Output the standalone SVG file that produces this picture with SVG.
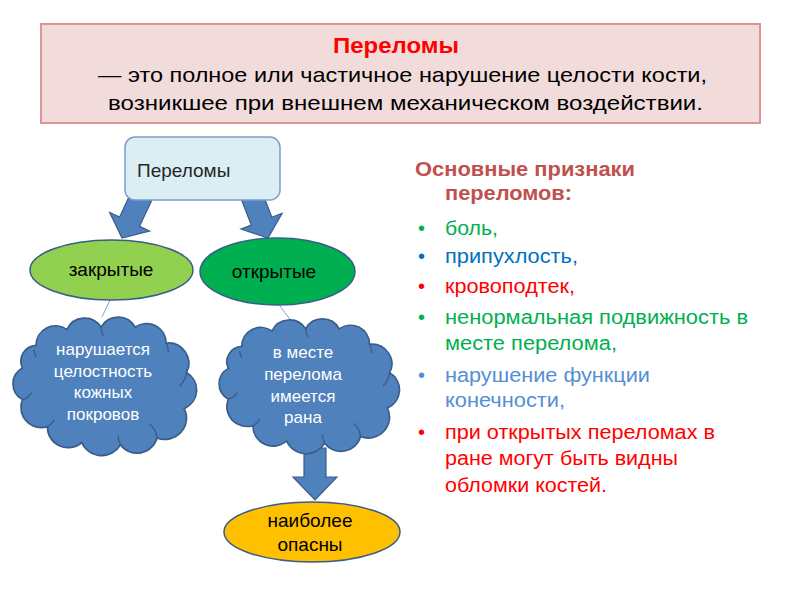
<svg xmlns="http://www.w3.org/2000/svg" xmlns:xlink="http://www.w3.org/1999/xlink" width="800" height="600" viewBox="0 0 800 600">
<style>
text{font-family:"Liberation Sans",Arial,sans-serif}
.arrow{fill:#4f81bd;stroke:#385d8a;stroke-width:1.2}
.thin{stroke:#7ea3d4;stroke-width:1;fill:none}
.cloud{fill:#4f81bd;stroke:#385d8a;stroke-width:1.5;vector-effect:non-scaling-stroke}
.inner{fill:none;stroke:#385d8a;stroke-width:1.2;vector-effect:non-scaling-stroke}
.ell{stroke:#385d8a;stroke-width:1.5}
.ct{fill:#ffffff;font-size:17px;text-anchor:middle}
.lt{font-size:20px}
.nt{font-size:19px;fill:#000;text-anchor:middle}
</style>
<defs>
<polygon id="arr" points="-11,-46 11,-46 11,-18 22,-18 0,0 -22,-18 -11,-18"/>
<path id="cloudShape" d="M-60,-36 A17,17 0 0 1 -33,-50 A17,17 0 0 1 -3,-52 A17,17 0 0 1 27,-52 A17,17 0 0 1 54,-38 A18,18 0 0 1 72,-12 A18,18 0 0 1 70,20 A19,19 0 0 1 46,46 A18,18 0 0 1 14,52 A19,19 0 0 1 -20,50 A18,18 0 0 1 -50,36 A18,18 0 0 1 -72,12 A16,16 0 0 1 -72,-16 A14,14 0 0 1 -60,-36 Z"/>
<path id="cloudInner" d="M-62,-32 A16,16 0 0 0 -60,-26 M-3,-52 A18,18 0 0 0 -1,-44 M54,-38 A16,16 0 0 1 56,-30 M72,-12 A20,20 0 0 1 66,0 M46,46 A18,18 0 0 0 40,34 M14,52 A16,16 0 0 1 12,44 M-50,36 A14,14 0 0 0 -44,30 M-72,12 A14,14 0 0 0 -64,6"/>
</defs>

<g id="title-box">
<rect x="41" y="24" width="719" height="99" fill="#f2dcdb" stroke="#d99694" stroke-width="2"/>
<text x="396" y="53" text-anchor="middle" font-size="22" font-weight="bold" fill="#ff0000" textLength="126" lengthAdjust="spacingAndGlyphs">Переломы</text>
<text x="98" y="82" font-size="21" fill="#000" textLength="609" lengthAdjust="spacingAndGlyphs">— это полное или частичное нарушение целости кости,</text>
<text x="108" y="110" font-size="21" fill="#000" textLength="595" lengthAdjust="spacingAndGlyphs">возникшее при внешнем механическом воздействии.</text>
</g>

<g id="connectors">
<use xlink:href="#arr" class="arrow" transform="translate(122,238) rotate(25)"/>
<use xlink:href="#arr" class="arrow" transform="translate(268,238) rotate(-21)"/>
<polygon class="arrow" points="304,448 326,448 326,477 337,477 315,500 293,477 304,477"/>
<line class="thin" x1="110" y1="300" x2="102" y2="317"/>
<line class="thin" x1="280" y1="306" x2="292" y2="322"/>
</g>

<g id="node-root">
<rect x="125" y="137" width="155" height="63" rx="10" ry="10" fill="#dbeef4" stroke="#7d9ec8" stroke-width="1.5"/>
<text x="137" y="177" font-size="19" fill="#262626">Переломы</text>
</g>

<g id="node-closed">
<ellipse class="ell" cx="111.5" cy="270" rx="81.5" ry="30" fill="#92d050"/>
<text class="nt" x="111" y="276">закрытые</text>
</g>

<g id="node-open">
<ellipse class="ell" cx="277.5" cy="271.5" rx="77.5" ry="33.5" fill="#00b050"/>
<text class="nt" x="274" y="278">открытые</text>
</g>

<g id="node-cloud-closed">
<g transform="translate(104.5,386) scale(1.14,1.13)">
<use xlink:href="#cloudShape" class="cloud"/>
<use xlink:href="#cloudInner" class="inner"/>
</g>
<text class="ct" x="103" y="355">нарушается</text>
<text class="ct" x="103" y="377">целостность</text>
<text class="ct" x="103" y="398">кожных</text>
<text class="ct" x="103" y="420">покровов</text>
</g>

<g id="node-cloud-open">
<g transform="translate(309,386) scale(1.12,1.1)">
<use xlink:href="#cloudShape" class="cloud"/>
<use xlink:href="#cloudInner" class="inner"/>
</g>
<text class="ct" x="303" y="358">в месте</text>
<text class="ct" x="303" y="380">перелома</text>
<text class="ct" x="303" y="402">имеется</text>
<text class="ct" x="303" y="423">рана</text>
</g>

<g id="node-danger">
<ellipse class="ell" cx="312" cy="532" rx="88" ry="30" fill="#ffc000"/>
<text class="nt" x="310" y="527">наиболее</text>
<text class="nt" x="310" y="551">опасны</text>
</g>

<g id="signs">
<text x="415" y="176" font-size="20" font-weight="bold" fill="#c0504d" textLength="220" lengthAdjust="spacingAndGlyphs">Основные признаки</text>
<text x="445" y="200" font-size="20" font-weight="bold" fill="#c0504d" textLength="127" lengthAdjust="spacingAndGlyphs">переломов:</text>
<g class="lt">
<text x="418" y="235" fill="#00b050">•</text>
<text x="445" y="235" fill="#00b050" textLength="53" lengthAdjust="spacingAndGlyphs">боль,</text>
<text x="418" y="263" fill="#0070c0">•</text>
<text x="445" y="263" fill="#0070c0" textLength="133" lengthAdjust="spacingAndGlyphs">припухлость,</text>
<text x="418" y="293" fill="#ff0000">•</text>
<text x="445" y="293" fill="#ff0000" textLength="130" lengthAdjust="spacingAndGlyphs">кровоподтек,</text>
<text x="418" y="324" fill="#00b050">•</text>
<text x="445" y="324" fill="#00b050" textLength="303" lengthAdjust="spacingAndGlyphs">ненормальная подвижность в</text>
<text x="445" y="350" fill="#00b050" textLength="172" lengthAdjust="spacingAndGlyphs">месте перелома,</text>
<text x="418" y="382" fill="#558ed5">•</text>
<text x="445" y="382" fill="#558ed5" textLength="205" lengthAdjust="spacingAndGlyphs">нарушение функции</text>
<text x="445" y="407" fill="#558ed5" textLength="120" lengthAdjust="spacingAndGlyphs">конечности,</text>
<text x="418" y="439" fill="#ff0000">•</text>
<text x="445" y="439" fill="#ff0000" textLength="270" lengthAdjust="spacingAndGlyphs">при открытых переломах в</text>
<text x="445" y="465" fill="#ff0000" textLength="233" lengthAdjust="spacingAndGlyphs">ране могут быть видны</text>
<text x="445" y="492" fill="#ff0000" textLength="162" lengthAdjust="spacingAndGlyphs">обломки костей.</text>
</g>
</g>
</svg>
